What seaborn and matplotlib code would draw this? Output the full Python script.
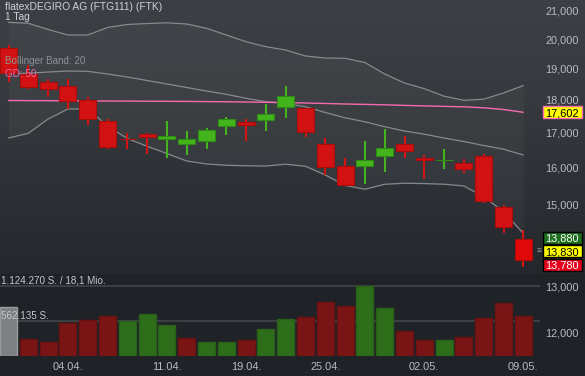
import numpy as np
import pandas as pd
import matplotlib
matplotlib.use("Agg")
import matplotlib.pyplot as plt
import seaborn as sns
from matplotlib.ticker import FixedLocator, FixedFormatter, NullLocator
from matplotlib.patches import Rectangle
from matplotlib.transforms import IdentityTransform

# ---------------- data ----------------
dates = ["30.03.", "31.03.", "01.04.", "04.04.", "05.04.", "06.04.", "07.04.", "08.04.",
         "11.04.", "12.04.", "13.04.", "14.04.", "19.04.", "20.04.", "21.04.", "22.04.",
         "25.04.", "26.04.", "27.04.", "28.04.", "29.04.", "02.05.", "03.05.", "04.05.",
         "05.05.", "06.05.", "09.05."]
opens = [19680, 18820, 18550, 18430, 17990, 17340, 16820, 16960, 16820, 16655, 16740, 17200,
         17310, 17380, 17760, 17730, 16655, 16050, 16045, 16330, 16655, 16260, 16196, 16110,
         16310, 14925, 14120]
highs = [19790, 19130, 18650, 18650, 18070, 17400, 16980, 16980, 17340, 17045, 17130, 17465,
         17395, 17855, 18430, 17740, 16830, 16260, 16750, 17100, 16900, 16350, 16520, 16235,
         16375, 14985, 14350]
lows = [18560, 18340, 18090, 17710, 17220, 16510, 16530, 16370, 16250, 16350, 16530, 16930,
        16750, 17045, 17440, 16880, 15790, 15515, 15550, 15880, 16270, 15670, 15960, 15850,
        15045, 14280, 13460]
closes = [18850, 18410, 18330, 17970, 17400, 16570, 16800, 16860, 16890, 16810, 17070, 17395,
          17230, 17550, 18110, 17020, 16020, 15530, 16200, 16550, 16450, 16195, 16200, 15945,
          15080, 14415, 13610]
volumes = [777000, 263000, 220000, 530000, 573000, 633000, 562000, 665000, 493000, 284000,
           220000, 220000, 252000, 429000, 594000, 617000, 858000, 798000, 1124270, 761000,
           397000, 247000, 257000, 305000, 601000, 851000, 638000]
bb_upper = [20591, 20556, 20335, 20142, 20142, 20406, 20513, 20548, 20573, 20531, 20378, 20142,
            19908, 19736, 19623, 19419, 19352, 19342, 19201, 18821, 18528, 18346, 18108, 17979,
            18014, 18209, 18448]
bb_mid = [18837, 18844, 18886, 18919, 18909, 18821, 18723, 18609, 18496, 18384, 18272, 18168,
          18042, 17936, 17880, 17780, 17602, 17440, 17319, 17172, 17045, 16950, 16838, 16736,
          16620, 16513, 16348]
bb_lower = [16838, 16976, 17404, 17709, 17709, 17193, 16824, 16597, 16390, 16178, 16094, 16058,
            16044, 16038, 16088, 16030, 15789, 15503, 15404, 15536, 15565, 15555, 15538, 15490,
            15204, 14813, 14266]
ma50 = [17973, 17970, 17967, 17964, 17961, 17957, 17954, 17951, 17948, 17945, 17939, 17933,
        17926, 17917, 17908, 17895, 17880, 17864, 17852, 17839, 17821, 17805, 17790, 17777,
        17746, 17694, 17608]
tick_dates = ["04.04.", "11.04.", "19.04.", "25.04.", "02.05.", "09.05."]
price_ticks = [21000, 20000, 19000, 18000, 17000, 16000, 15000, 13000, 12000]
ma_last = 17602
bid, last, ask = 13880, 13830, 13780
title = "flatexDEGIRO AG (FTG111) (FTK)"
period = "1 Tag"
turnover = "18,1 Mio."

# ---------------- style ----------------
sns.set_theme(style="dark")
plt.rcParams["font.family"] = ["Liberation Sans", "DejaVu Sans"]

W, H = 585, 376
fig = plt.figure(figsize=(W / 100, H / 100), dpi=100)

# background gradient
bg = fig.add_axes([0, 0, 1, 1], zorder=-10)
rows = np.arange(H)
top_c = np.array([60, 64, 68]) / 255
mid_c = np.array([36, 39, 43]) / 255
bot_c = np.array([31, 34, 38]) / 255
t = np.clip(rows / 272.0, 0, 1)[:, None] ** 1.3
grad = top_c * (1 - t) + mid_c * t
grad[rows >= 274] = bot_c
img = np.repeat(grad[:, None, :], 4, axis=1)
bg.imshow(img, aspect="auto", extent=[0, 1, 0, 1])
bg.set_axis_off()

n = len(dates)
idx = np.arange(n)
step = 19.8
x0 = 8.5
axw = 540
xlim = (-x0 / step, (axw - x0) / step)

# ---------------- price axes ----------------
ax = fig.add_axes([0, 0, axw / W, 1])
ax.set_facecolor("none")
ax.set_yscale("log")
k = 575.0
ax.set_ylim(21000 * np.exp(-(H - 11) / k), 21000 * np.exp(11 / k))
ax.set_xlim(*xlim)
for s in ax.spines.values():
    s.set_visible(False)

ax.fill_between(idx, bb_lower, bb_upper, color="white", alpha=0.035, lw=0, zorder=1)
band_c = "#8e9296"
sns.lineplot(x=idx, y=bb_upper, ax=ax, color=band_c, lw=0.9, alpha=0.9, zorder=2)
sns.lineplot(x=idx, y=bb_mid, ax=ax, color=band_c, lw=0.9, alpha=0.9, zorder=2)
sns.lineplot(x=idx, y=bb_lower, ax=ax, color=band_c, lw=0.9, alpha=0.9, zorder=2)
sns.lineplot(x=idx, y=ma50, ax=ax, color="#ff6eb4", lw=1.0, alpha=0.95, zorder=2)

o = np.array(opens, float)
c = np.array(closes, float)
up = c >= o
body_col = np.where(up, "#44b41c", "#d21212")
edge_col = np.where(up, "#2e8c14", "#a80d0d")
body_col[-1] = "#e00808"
wick_col = np.where(up, "#44b41c", "#d41414")
ax.vlines(idx, lows, highs, colors=wick_col, lw=1.5, zorder=3)
bottoms = np.minimum(o, c)
heights = np.maximum(np.abs(c - o), 1.0)
ax.bar(idx, heights, bottom=bottoms, width=0.86, color=body_col, edgecolor=edge_col,
       linewidth=0.8, zorder=4)

ax.yaxis.tick_right()
ax.yaxis.set_major_locator(FixedLocator(price_ticks))
ax.yaxis.set_major_formatter(FixedFormatter([f"{v:,}" for v in price_ticks]))
ax.yaxis.set_minor_locator(NullLocator())
ax.tick_params(axis="y", length=0, pad=3.8, labelsize=7.9, labelcolor="#b8bcc0")
ax.set_xticks([])
ax.grid(False)
ax.set_xlabel("")
ax.set_ylabel("")

# price boxes (drawn in pixel space, centred on the value's position)
def pbox(val, dy_px, fc, ec, tc):
    yc = ax.transData.transform((0, val))[1] + dy_px
    fig.add_artist(Rectangle((542.5, yc - 6), 39, 12, transform=IdentityTransform(),
                             fc=fc, ec=ec, lw=1.0, zorder=20))
    fig.text(545.5 / W, yc / H, f"{val:,}", ha="left", va="center_baseline",
             fontsize=7.9, color=tc, zorder=21)

pbox(ma_last, 0, "#ffff00", "#ff6eb4", "black")
pbox(bid, 11.5, "#1d6e1d", "black", "white")
pbox(last, 0, "#ffff00", "black", "black")
pbox(ask, -11.5, "#e4001c", "black", "white")
ax.annotate("\u2261", xy=(1, last), xycoords=("axes fraction", "data"), xytext=(-1.0, 0),
            textcoords="offset points", ha="center", va="center", fontsize=6,
            color="#9a9ea2", annotation_clip=False)

# ---------------- volume axes ----------------
vb, vt = 355.7, 276.0
axv = fig.add_axes([0, (H - vb) / H, axw / W, (vb - vt) / H])
axv.set_facecolor("none")
for s in axv.spines.values():
    s.set_visible(False)
vmax = max(volumes)
vcols, vedges = [], []
for i in range(n):
    if i == 0:
        vcols.append("#7f8082"); vedges.append("#9a9b9d")
    elif closes[i] >= closes[i - 1]:
        vcols.append("#2e6e1a"); vedges.append("#28601a")
    else:
        vcols.append("#7a1515"); vedges.append("#6a1212")
df = pd.DataFrame({"pos": idx, "vol": volumes, "key": [str(i) for i in idx]})
sns.barplot(data=df, x="pos", y="vol", hue="key", palette=dict(zip(df["key"], vcols)),
            legend=False, width=0.86, saturation=1, ax=axv, zorder=2)
bars = sorted(axv.patches, key=lambda p: p.get_x())
for p, ec in zip(bars, vedges):
    p.set_edgecolor(ec)
    p.set_linewidth(1.0)
axv.set_xlim(*xlim)
axv.set_ylim(0, vmax * (vb - vt) / 70.0)
axv.axhline(vmax, color="#3c4044", lw=1.4, zorder=1)
axv.axhline(vmax / 2, color="#3c4044", lw=1.4, zorder=1)
vlab = f"{vmax:,}".replace(",", ".")
axv.text(0.002, vmax, f"{vlab} S. / {turnover}",
         transform=axv.get_yaxis_transform(), ha="left", va="bottom", fontsize=7.1,
         color="#c4c8cc")
axv.text(0.002, vmax / 2, f"{vmax // 2:,} S.".replace(",", "."),
         transform=axv.get_yaxis_transform(), ha="left", va="bottom", fontsize=7.1,
         color="#c4c8cc", zorder=5)
axv.set_yticks([])
axv.set_xticks([dates.index(d) for d in tick_dates])
axv.set_xticklabels(tick_dates)
axv.tick_params(axis="x", length=0, pad=4.5, labelsize=7.9, labelcolor="#b8bcc0")
axv.set_xlabel("")
axv.set_ylabel("")
axv.grid(False)

# ---------------- texts ----------------
fig.text(5 / W, 1 - 7 / H, title, ha="left", va="center", fontsize=7.4, color="#cdd1d5")
fig.text(5 / W, 1 - 17.5 / H, period, ha="left", va="center", fontsize=7.4, color="#cdd1d5")
fig.text(5 / W, 1 - 61 / H, "Bollinger Band: 20", ha="left", va="center", fontsize=7.1,
         color="#8e9296")
fig.text(5 / W, 1 - 74 / H, "GD: 50", ha="left", va="center", fontsize=7.1,
         color="#e86aa8")

fig.savefig("out.png", dpi=100)
